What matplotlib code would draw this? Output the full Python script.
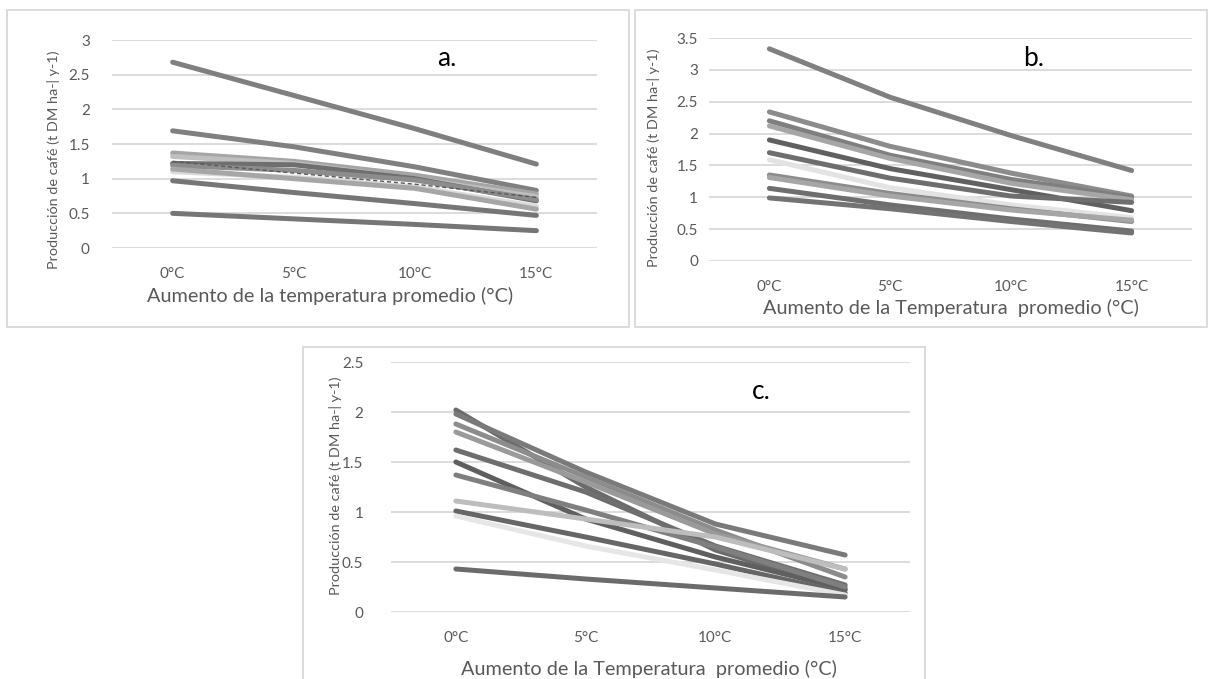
import matplotlib
matplotlib.use('Agg')
from matplotlib import pyplot as plt
from matplotlib.patches import Rectangle
from matplotlib.ticker import FuncFormatter

plt.rcParams['font.family'] = ['Lato', 'DejaVu Sans']

categories = ['0°C', '5°C', '10°C', '15°C']

# panel a: production per scenario
prod_a = [
    [2.68, 2.20, 1.72, 1.21],
    [1.69, 1.46, 1.17, 0.83],
    [1.37, 1.25, 1.05, 0.78],
    [1.32, 1.22, 1.00, 0.74],
    [1.22, 1.20, 1.00, 0.68],
    [1.19, 1.12, 0.98, 0.70],
    [1.10, 1.02, 0.88, 0.60],
    [1.14, 1.00, 0.86, 0.56],
    [0.97, 0.80, 0.64, 0.47],
    [0.50, 0.42, 0.34, 0.25],
]
dashed_a = [1.25, 1.08, 0.92, 0.73]

# panel b
prod_b = [
    [3.33, 2.57, 1.97, 1.42],
    [2.34, 1.80, 1.38, 1.02],
    [2.20, 1.66, 1.28, 1.00],
    [2.12, 1.61, 1.22, 0.96],
    [1.90, 1.45, 1.12, 0.79],
    [1.70, 1.30, 1.02, 0.92],
    [1.59, 1.15, 0.88, 0.68],
    [1.35, 1.06, 0.82, 0.62],
    [1.31, 1.02, 0.80, 0.64],
    [1.14, 0.88, 0.66, 0.47],
    [0.99, 0.82, 0.62, 0.44],
]

# panel c
prod_c = [
    [2.02, 1.25, 0.62, 0.22],
    [1.98, 1.40, 0.88, 0.57],
    [1.88, 1.35, 0.82, 0.35],
    [1.80, 1.30, 0.78, 0.43],
    [1.62, 1.20, 0.66, 0.27],
    [1.50, 0.93, 0.55, 0.23],
    [1.37, 1.02, 0.65, 0.25],
    [1.11, 0.93, 0.75, 0.43],
    [1.01, 0.75, 0.48, 0.19],
    [0.96, 0.66, 0.42, 0.17],
    [0.43, 0.33, 0.24, 0.15],
]

colors_a = ['#7f7f7f', '#808080', '#a5a5a5', '#bfbfbf', '#6f6f6f', '#8c8c8c',
            '#dadada', '#a6a6a6', '#767676', '#767676']
colors_b = ['#808080', '#8c8c8c', '#7f7f7f', '#a6a6a6', '#606060', '#6e6e6e',
            '#e3e3e3', '#8c8c8c', '#a6a6a6', '#6e6e6e', '#737373']
colors_c = ['#6b6b6b', '#7a7a7a', '#8c8c8c', '#9a9a9a', '#6e6e6e', '#5f5f5f',
            '#7f7f7f', '#bdbdbd', '#666666', '#e6e6e6', '#6b6b6b']

W, H = 1210, 679
txt = '#595959'
ylab = 'Producción de café (t DM ha-| y-1)'

fig = plt.figure(figsize=(W / 100, H / 100), dpi=100)


def px_axes(x0, y0, x1, y1):
    # pixel box (top-left origin) -> axes
    return fig.add_axes([x0 / W, 1 - y1 / H, (x1 - x0) / W, (y1 - y0) / H])


def frame(x0, y0, x1, y1):
    fig.patches.append(Rectangle((x0 / W, 1 - y1 / H), (x1 - x0) / W, (y1 - y0) / H,
                                 transform=fig.transFigure, fill=False,
                                 edgecolor='#d9d9d9', linewidth=1.3))


def draw_panel(ax, series, colors, ymax, ypad):
    x = range(len(categories))
    for vals, c in zip(series, colors):
        ax.plot(x, vals, color=c, linewidth=3.6, solid_capstyle='round',
                solid_joinstyle='round', zorder=3, clip_on=False)
    ax.set_xlim(-0.5, len(categories) - 0.5)
    ax.set_ylim(0, ymax)
    ax.set_yticks([i * 0.5 for i in range(int(ymax / 0.5) + 1)])
    ax.yaxis.set_major_formatter(FuncFormatter(lambda v, p: f'{v:g}'))
    ax.set_xticks(list(x))
    ax.set_xticklabels(categories)
    ax.grid(axis='y', color='#d9d9d9', linewidth=1.3, zorder=0)
    for s in ax.spines.values():
        s.set_visible(False)
    ax.tick_params(axis='both', length=0, colors=txt, labelsize=11)
    ax.tick_params(axis='y', pad=ypad)
    ax.tick_params(axis='x', pad=14)


# frames
frame(7, 10, 629, 327)
frame(635, 10, 1207, 327)
frame(303, 347, 925, 690)

# panel a
ax_a = px_axes(112, 40, 597, 248)
draw_panel(ax_a, prod_a, colors_a, 3, 16)
ax_a.plot(range(len(categories)), dashed_a, color='#595959', linewidth=1.0,
          linestyle=(0, (3, 2)), zorder=4)
fig.text(330 / W, 1 - 296 / H, 'Aumento de la temperatura promedio (°C)',
         ha='center', va='center', fontsize=14.3, color=txt)
fig.text(54 / W, 1 - 160 / H, ylab, rotation=90, ha='center', va='center',
         fontsize=10.4, color=txt)
fig.text(447 / W, 1 - 58 / H, 'a.', ha='center', va='center', fontsize=19,
         color='black')

# panel b
ax_b = px_axes(709, 38, 1192, 261)
draw_panel(ax_b, prod_b, colors_b, 3.5, 8)
fig.text(951 / W, 1 - 308 / H, 'Aumento de la Temperatura  promedio (°C)',
         ha='center', va='center', fontsize=14.3, color=txt)
fig.text(653 / W, 1 - 158 / H, ylab, rotation=90, ha='center', va='center',
         fontsize=10.4, color=txt)
fig.text(1034 / W, 1 - 58 / H, 'b.', ha='center', va='center', fontsize=19,
         color='black')

# panel c
ax_c = px_axes(391, 362, 910, 612)
draw_panel(ax_c, prod_c, colors_c, 2.5, 20)
fig.text(649 / W, 1 - 669 / H, 'Aumento de la Temperatura  promedio (°C)',
         ha='center', va='center', fontsize=14.3, color=txt)
fig.text(335 / W, 1 - 486 / H, ylab, rotation=90, ha='center', va='center',
         fontsize=10.4, color=txt)
fig.text(761 / W, 1 - 392 / H, 'c.', ha='center', va='center', fontsize=19,
         color='black')

fig.savefig('out.png', dpi=100, facecolor='white')
